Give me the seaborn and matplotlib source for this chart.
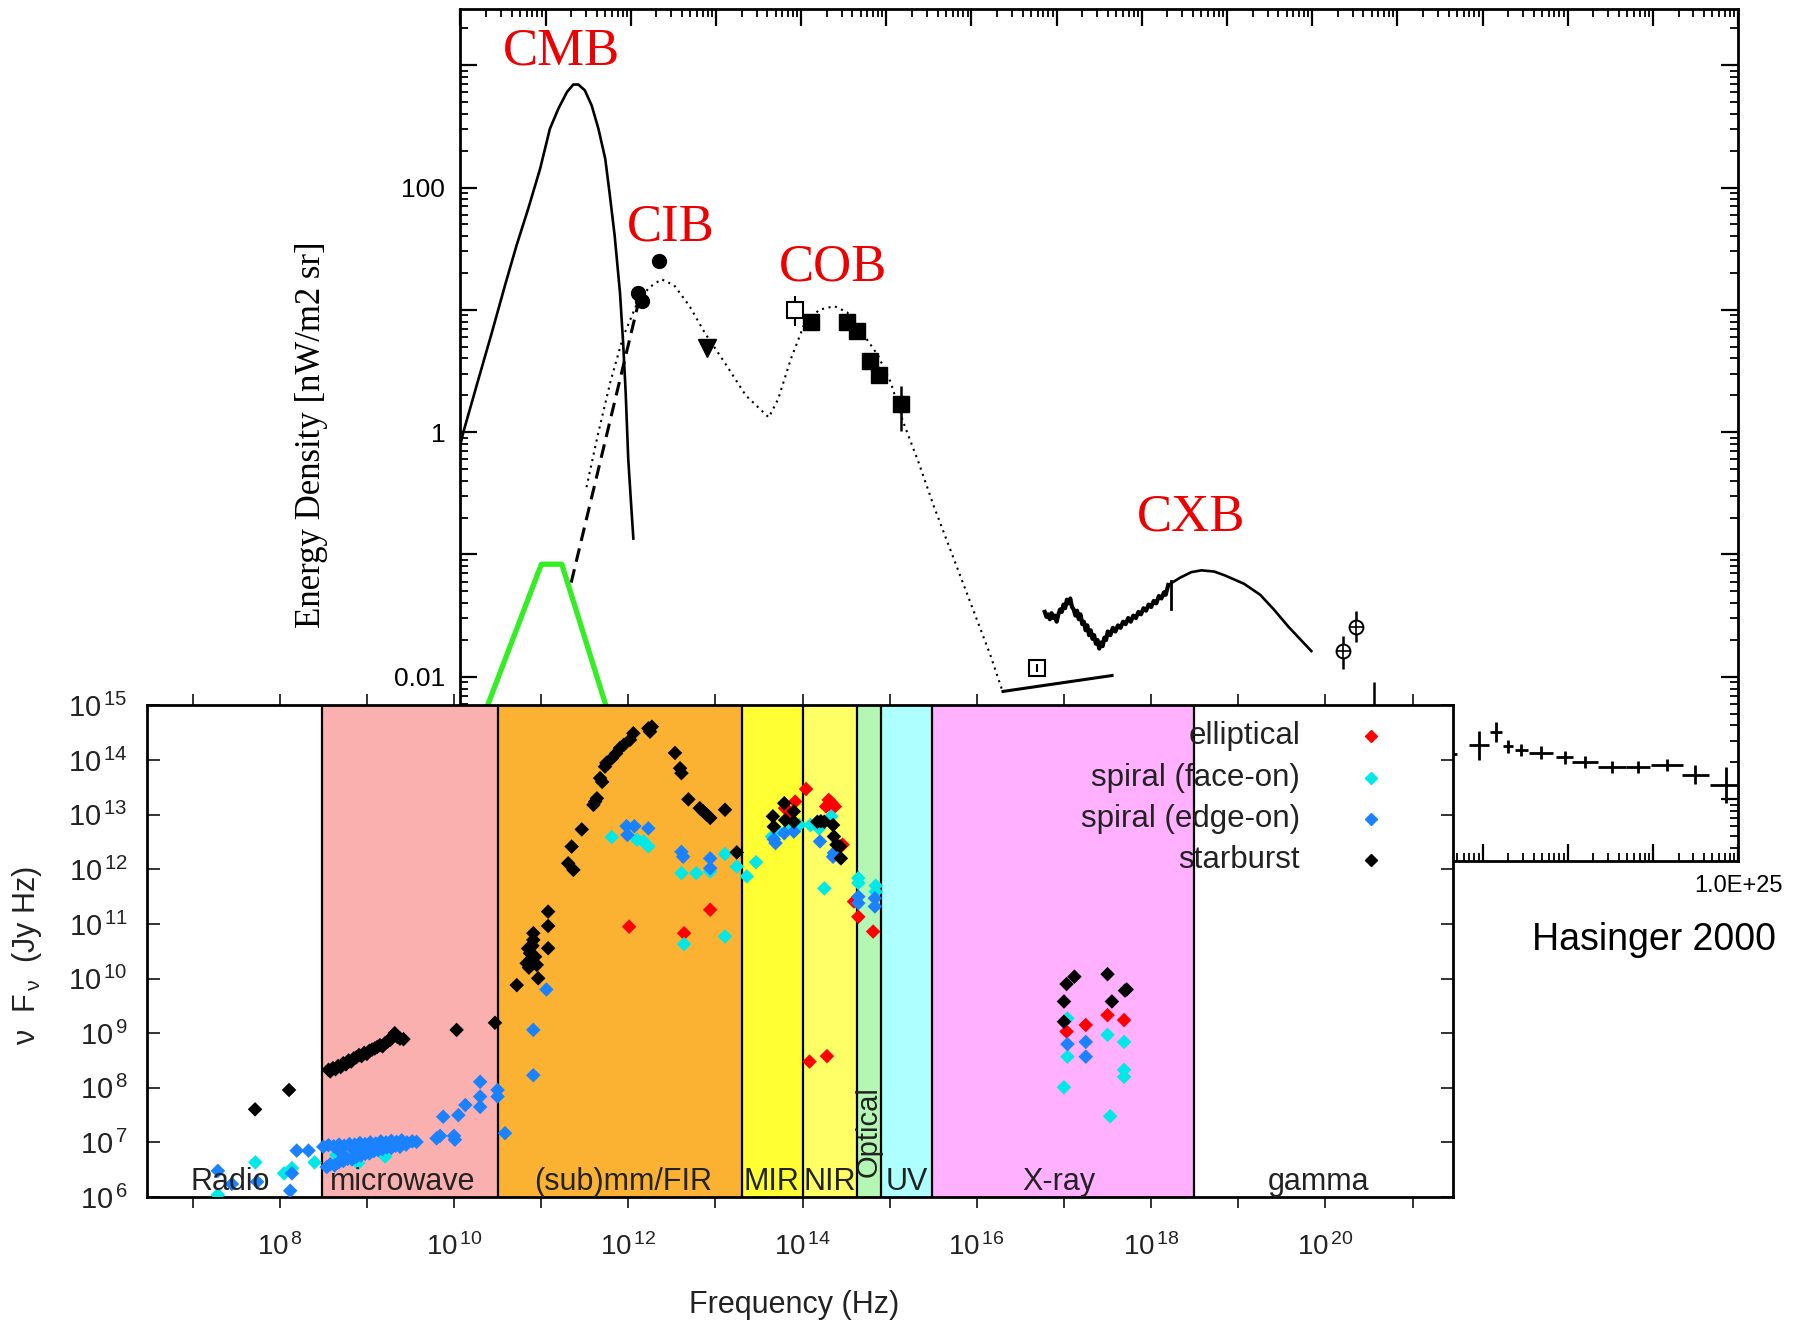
import numpy as np
import pandas as pd
import matplotlib
matplotlib.use("Agg")
import matplotlib.pyplot as plt
import matplotlib.ticker as mticker
import seaborn as sn

plt.rcParams['font.family'] = ['Liberation Sans', 'DejaVu Sans']
plt.rcParams['mathtext.fontset'] = 'custom'
plt.rcParams['mathtext.rm'] = 'Liberation Sans'
plt.rcParams['mathtext.it'] = 'Liberation Sans:italic'

# ---------------- top panel: extragalactic background (log10 values)
cmb_lognu = [10.00, 10.034, 10.21, 10.367, 10.523, 10.66, 10.797, 10.934, 11.05, 11.15, 11.25, 11.325, 11.384,
             11.46, 11.54, 11.62, 11.70, 11.75, 11.81, 11.873, 11.91, 11.94, 11.97, 12.00, 12.03]
cmb_loge = [-0.10, 0.00, 0.43, 0.81, 1.20, 1.53, 1.83, 2.15, 2.48, 2.645, 2.78, 2.842, 2.842,
            2.795, 2.672, 2.48, 2.235, 1.96, 1.61, 1.14, 0.73, 0.32, -0.22, -0.55, -0.87]

green_lognu = [9.90, 10.95, 11.19, 12.05]
green_loge = [-3.0, -1.08, -1.08, -3.0]

dash_lognu = [11.30, 12.08]
dash_loge = [-1.23, 1.03]

ebl_lognu = [11.48, 11.61, 11.76, 11.91, 12.06, 12.21, 12.36, 12.51, 12.69, 12.87, 13.11, 13.35, 13.62, 13.73, 13.88, 14.03,
             14.21, 14.39, 14.54, 14.72, 14.90, 15.05, 15.20, 15.38, 15.56, 15.80, 16.04, 16.22, 16.37]
ebl_loge = [-0.45, -0.03, 0.41, 0.78, 1.03, 1.18, 1.25, 1.20, 1.03, 0.81, 0.56, 0.30, 0.12, 0.27, 0.60, 0.87,
            1.00, 1.03, 0.98, 0.81, 0.63, 0.41, 0.08, -0.25, -0.61, -1.05, -1.49, -1.82, -2.13]

cib_lognu = [12.09, 12.13, 12.33]
cib_loge = [1.14, 1.07, 1.40]
tri_lognu = [12.90]
tri_loge = [0.69]

cob_open_lognu = [13.93]
cob_open_loge = [1.00]
cob_lognu = [14.12, 14.54, 14.65, 14.81, 14.91, 15.17]
cob_loge = [0.90, 0.90, 0.83, 0.58, 0.47, 0.23]

cxb_lognu = [16.86, 16.88, 16.90, 16.92, 16.94, 16.96, 16.98, 17.00, 17.02, 17.04, 17.06, 17.08, 17.10, 17.12, 17.14,
             17.16, 17.18, 17.20, 17.22, 17.24, 17.26, 17.28, 17.30, 17.32, 17.34, 17.36, 17.38, 17.40, 17.42, 17.44,
             17.46, 17.48, 17.50, 17.52, 17.54, 17.56, 17.58, 17.60, 17.63, 17.66, 17.69, 17.72, 17.75, 17.78, 17.81,
             17.84, 17.87, 17.90, 17.93, 17.96, 17.99, 18.02, 18.05, 18.08, 18.11, 18.14, 18.17, 18.20, 18.23, 18.26,
             18.28, 18.31, 18.45, 18.58, 18.70, 18.85, 18.97, 19.20, 19.39, 19.55, 19.72, 19.99]
cxb_loge = [-1.47, -1.51, -1.49, -1.53, -1.48, -1.52, -1.50, -1.55, -1.49, -1.45, -1.47, -1.41, -1.44, -1.37, -1.40,
            -1.36, -1.43, -1.45, -1.50, -1.46, -1.53, -1.49, -1.57, -1.55, -1.62, -1.58, -1.66, -1.62, -1.69, -1.66,
            -1.73, -1.70, -1.77, -1.72, -1.75, -1.68, -1.70, -1.63, -1.66, -1.60, -1.63, -1.58, -1.60, -1.55, -1.57,
            -1.52, -1.55, -1.50, -1.52, -1.47, -1.49, -1.44, -1.46, -1.41, -1.43, -1.38, -1.40, -1.34, -1.36, -1.31,
            -1.33, -1.25, -1.19, -1.145, -1.13, -1.14, -1.17, -1.24, -1.33, -1.45, -1.59, -1.79]

euv_lognu = [16.37, 17.65]
euv_loge = [-2.12, -1.99]
euv_pt_lognu = [16.77]
euv_pt_loge = [-1.93]

gam_pt_lognu = [20.36, 20.52, 20.73]
gam_pt_loge = [-1.79, -1.59, -2.35]
gam_pt_lo = [0.15, 0.13, 0.20]
gam_pt_hi = [0.12, 0.13, 0.31]

egret_lognu = [21.60, 21.96, 22.155, 22.30, 22.456, 22.69, 22.965, 23.20, 23.52, 23.825, 24.165, 24.50, 24.855]
egret_loge = [-2.63, -2.56, -2.45, -2.57, -2.60, -2.62, -2.66, -2.70, -2.74, -2.74, -2.72, -2.80, -2.885]
egret_dx = [0.10, 0.12, 0.07, 0.06, 0.08, 0.14, 0.10, 0.15, 0.17, 0.14, 0.19, 0.16, 0.18]
egret_dy = [0.05, 0.12, 0.08, 0.05, 0.05, 0.05, 0.05, 0.05, 0.05, 0.05, 0.05, 0.075, 0.15]

# ---------------- bottom panel: galaxy SEDs (log10 nu, log10 nuFnu)
band_names = ['microwave', '(sub)mm/FIR', 'MIR', 'NIR', 'Optical', 'UV', 'X-ray']
band_lo = [8.49, 10.50, 13.30, 14.01, 14.62, 14.90, 15.49]
band_hi = [10.50, 13.30, 14.01, 14.62, 14.90, 15.49, 18.49]
band_colors = ['#fbb0b0', '#fbb233', '#ffff33', '#ffff66', '#b4f7b4', '#aeffff', '#ffb0ff']

ell_nu = [12.01, 12.64, 12.94, 13.80, 13.915, 13.85, 14.04, 14.27, 14.30, 14.31, 14.37, 14.33, 14.46, 14.08, 14.28,
          14.59, 14.64, 14.81, 17.03, 17.25, 17.50, 17.69]
ell_f = [10.95, 10.83, 11.26, 13.12, 13.24, 13.05, 13.47, 13.15, 13.27, 13.18, 13.15, 13.22, 12.45, 8.48, 8.58,
         11.41, 11.13, 10.86, 9.03, 9.15, 9.33, 9.24]

face_nu = [7.29, 7.72, 8.05, 8.14, 8.40, 8.65, 8.90, 9.21, 11.81, 12.10, 12.175, 12.23, 12.61, 12.78, 12.94, 13.11,
           13.245, 13.36, 13.466, 12.64, 13.11, 13.65, 13.86, 13.96, 13.72, 14.09, 14.19, 14.33, 14.25, 14.64, 14.64,
           14.84, 14.84, 17.04, 17.04, 17.50, 17.69, 17.69, 17.69, 17.00, 17.53]
face_f = [6.04, 6.635, 6.434, 6.53, 6.635, 6.77, 6.62, 6.74, 12.59, 12.54, 12.51, 12.42, 11.93, 11.93, 11.96, 12.28,
          12.05, 11.87, 12.13, 10.63, 10.77, 12.60, 12.78, 12.81, 12.70, 12.81, 12.75, 12.97, 11.65, 11.84, 11.75,
          11.70, 11.59, 9.27, 8.57, 8.97, 8.84, 8.33, 8.20, 8.01, 7.48]

edge_nu = [7.29, 7.45, 7.74, 8.14, 8.12, 8.195, 8.33,
           8.50, 8.56, 8.62, 8.68, 8.74, 8.80, 8.86, 8.92, 8.98, 9.04, 9.10, 9.16, 9.22, 9.28, 9.34, 9.40, 9.46, 9.52, 9.57,
           8.54, 8.58, 8.63, 8.68, 8.73, 8.78, 8.83, 8.88, 8.93, 8.98, 9.03, 9.08, 9.13, 9.18, 9.23, 9.28, 9.33, 9.38,
           8.70, 8.85, 9.00, 9.15, 9.30, 9.45,
           9.80, 9.876, 10.01, 10.05, 10.13, 10.30, 10.30, 10.30, 10.50, 10.50, 10.585, 10.91, 10.91, 11.06, 9.84, 10.00,
           11.98, 12.07, 12.23, 11.99, 12.61, 12.63, 12.94, 12.94, 13.69, 13.79, 13.90, 13.67, 14.20, 14.35, 14.36,
           14.64, 14.64, 14.83, 14.83, 17.04, 17.25, 17.25]
edge_f = [6.48, 6.24, 6.28, 6.434, 6.116, 6.85, 6.85,
          6.92, 6.95, 6.93, 6.96, 6.94, 6.97, 6.96, 6.99, 6.97, 7.00, 6.98, 7.02, 7.00, 7.03, 7.01, 7.04, 7.00, 7.02, 7.01,
          6.55, 6.60, 6.58, 6.64, 6.66, 6.70, 6.69, 6.74, 6.76, 6.79, 6.80, 6.84, 6.86, 6.88, 6.91, 6.90, 6.94, 6.92,
          6.82, 6.86, 6.89, 6.94, 6.97, 6.96,
          7.075, 7.47, 7.05, 7.50, 7.685, 8.11, 7.84, 7.65, 7.96, 7.84, 7.17, 9.06, 8.23, 9.80, 7.12, 7.12,
          12.79, 12.79, 12.75, 12.63, 12.32, 12.23, 12.20, 12.02, 12.48, 12.66, 12.69, 12.55, 12.51, 12.23, 12.30,
          11.50, 11.38, 11.47, 11.32, 8.80, 8.84, 8.57]

sb_nu = [7.717, 8.107,
         8.56, 8.58, 8.61, 8.64, 8.67, 8.70, 8.73, 8.76, 8.79, 8.82, 8.85, 8.88, 8.91, 8.94, 8.97, 9.00, 9.03, 9.06, 9.09,
         9.12, 9.15, 9.18, 9.21, 9.24, 9.27, 9.30, 9.32, 9.35, 9.38, 9.42,
         10.03, 10.47,
         10.72, 10.966, 10.834, 10.91, 10.872, 10.91, 10.85, 10.88, 10.90, 10.86, 10.93, 11.08, 11.08, 11.08, 10.95,
         11.31, 11.35, 11.37, 11.466, 11.62, 11.60, 11.64, 11.676, 11.70, 11.733, 11.75, 11.81, 11.86, 11.905, 11.95,
         12.02, 12.058, 12.23, 12.27, 12.25,
         12.536, 12.594, 12.61, 12.69, 12.82, 12.86, 12.90, 12.94, 13.11, 13.245,
         13.66, 13.67, 13.79, 13.80, 13.90, 13.90,
         14.17, 14.25, 14.35, 14.36, 14.39, 14.43, 14.44, 14.21,
         17.12, 17.03, 17.00, 17.00, 17.50, 17.70, 17.55, 17.72]
sb_f = [7.606, 7.96,
        8.33, 8.30, 8.36, 8.34, 8.40, 8.38, 8.45, 8.43, 8.50, 8.48, 8.54, 8.56, 8.60, 8.58, 8.64, 8.62, 8.68, 8.70, 8.72,
        8.75, 8.78, 8.76, 8.82, 8.85, 8.88, 8.95, 9.00, 8.93, 8.90, 8.89,
        9.06, 9.19,
        9.88, 10.005, 10.28, 10.707, 10.463, 10.83, 10.55, 10.35, 10.60, 10.20, 10.40, 11.225, 10.963, 10.555, 10.25,
        12.11, 12.416, 11.99, 12.73, 13.24, 13.18, 13.30, 13.67, 13.60, 13.88, 13.95, 14.03, 14.12, 14.22, 14.28,
        14.37, 14.49, 14.58, 14.61, 14.52,
        14.13, 13.85, 13.76, 13.28, 13.12, 13.06, 13.00, 12.94, 13.09, 12.31,
        12.97, 12.78, 13.21, 12.90, 13.06, 12.87,
        12.87, 12.87, 12.81, 12.60, 12.45, 12.42, 12.20, 12.88,
        10.035, 9.90, 9.58, 9.21, 10.08, 9.78, 9.58, 9.80]

types = ['elliptical', 'spiral (face-on)', 'spiral (edge-on)', 'starburst']
type_colors = ['#ff0000', '#00e8e8', '#1a82ff', '#000000']


def p(v):
    return 10 ** np.asarray(v, dtype=float)


gal = pd.concat([
    pd.DataFrame({'nu': p(ell_nu), 'flux': p(ell_f), 'type': types[0]}),
    pd.DataFrame({'nu': p(face_nu), 'flux': p(face_f), 'type': types[1]}),
    pd.DataFrame({'nu': p(edge_nu), 'flux': p(edge_f), 'type': types[2]}),
    pd.DataFrame({'nu': p(sb_nu), 'flux': p(sb_f), 'type': types[3]}),
], ignore_index=True)

fig = plt.figure(figsize=(18.05, 13.28), dpi=100)

# ================= top axes
ax1 = fig.add_axes([0.2551, 0.3517, 0.7078, 0.6412])
ax1.set_xscale('log')
ax1.set_yscale('log')
ax1.set_xlim(1e10, 1e25)
ax1.set_ylim(10 ** -3.506, 10 ** 3.456)

ax1.plot(p(cmb_lognu), p(cmb_loge), color='k', lw=1.9)
ax1.plot(p(green_lognu), p(green_loge), color='#33ee22', lw=3.8)
ax1.plot(p(dash_lognu), p(dash_loge), color='k', lw=2.2, ls=(0, (4.5, 2.5)))
ax1.plot(p(ebl_lognu), p(ebl_loge), color='k', lw=1.5, ls=(0, (1, 2.2)))
ax1.plot(p(cib_lognu), p(cib_loge), 'o', color='k', ms=10)
ax1.plot(p(tri_lognu), p(tri_loge), 'v', color='k', ms=13)
ax1.errorbar(p(cob_open_lognu), p(cob_open_loge), yerr=[[10 ** 1.0 - 10 ** 0.87], [10 ** 1.11 - 10 ** 1.0]],
             fmt='s', mfc='white', mec='k', mew=1.5, ms=11, ecolor='k', elinewidth=1.5)
ax1.errorbar(p(cob_lognu[-1:]), p(cob_loge[-1:]), yerr=[[10 ** 0.23 - 10 ** 0.01], [10 ** 0.38 - 10 ** 0.23]],
             fmt='none', ecolor='k', elinewidth=1.8)
ax1.plot(p(cob_lognu), p(cob_loge), 's', color='k', ms=12)
ax1.plot(p(cxb_lognu[:62]), p(cxb_loge[:62]), color='k', lw=3.0)
ax1.plot(p(cxb_lognu[61:]), p(cxb_loge[61:]), color='k', lw=1.9)
ax1.plot([10 ** 18.34, 10 ** 18.34], [10 ** -1.22, 10 ** -1.45], color='k', lw=2)
ax1.plot(p(euv_lognu), p(euv_loge), color='k', lw=2.2)
ax1.plot(p(euv_pt_lognu), p(euv_pt_loge), 's', mfc='white', mec='k', mew=1.5, ms=11)
ax1.plot(p(euv_pt_lognu), p(euv_pt_loge), '|', color='k', ms=6, mew=1.5)

gy = np.asarray(gam_pt_loge)
ax1.errorbar(p(gam_pt_lognu), p(gam_pt_loge),
             yerr=[p(gy) - p(gy - np.asarray(gam_pt_lo)), p(gy + np.asarray(gam_pt_hi)) - p(gy)],
             fmt='none', ecolor='k', elinewidth=1.8)
ax1.plot(p(gam_pt_lognu[:2]), p(gam_pt_loge[:2]), 'o', mfc='white', mec='k', mew=1.4, ms=10)
ax1.plot(p(gam_pt_lognu[:2]), p(gam_pt_loge[:2]), '+', color='k', ms=10, mew=1.2)

ex = np.asarray(egret_lognu)
ey = np.asarray(egret_loge)
edx = np.asarray(egret_dx)
edy = np.asarray(egret_dy)
ax1.errorbar(p(ex), p(ey), xerr=[p(ex) - p(ex - edx), p(ex + edx) - p(ex)],
             yerr=[p(ey) - p(ey - edy), p(ey + edy) - p(ey)], fmt='none', ecolor='k', elinewidth=2.0)

for lab, lx, ly in [('CMB', 11.19, 3.11), ('CIB', 12.47, 1.67), ('COB', 14.38, 1.35), ('CXB', 18.58, -0.70)]:
    ax1.text(10 ** lx, 10 ** ly, lab, color='#ee0000', fontsize=38, family='Liberation Serif',
             ha='center', va='center')

ax1.xaxis.set_major_locator(mticker.LogLocator(base=10, numticks=40))
ax1.xaxis.set_minor_locator(mticker.LogLocator(base=10, subs=np.arange(2, 10), numticks=40))
ax1.yaxis.set_major_locator(mticker.LogLocator(base=10, numticks=40))
ax1.yaxis.set_minor_locator(mticker.LogLocator(base=10, subs=np.arange(2, 10), numticks=40))


def xfmt(v, pos):
    k = int(round(np.log10(v)))
    return '1.0E+%d' % k if k % 5 == 0 else ''


def yfmt(v, pos):
    k = int(round(np.log10(v)))
    if k % 2:
        return ''
    return {2: '100', 0: '1', -2: '0.01'}.get(k, '')


ax1.xaxis.set_major_formatter(mticker.FuncFormatter(xfmt))
ax1.xaxis.set_minor_formatter(mticker.NullFormatter())
ax1.yaxis.set_major_formatter(mticker.FuncFormatter(yfmt))
ax1.yaxis.set_minor_formatter(mticker.NullFormatter())
ax1.tick_params(which='both', direction='in', top=True, right=True)
ax1.tick_params(axis='y', labelsize=19, pad=11)
ax1.tick_params(axis='x', labelsize=17, pad=10)
ax1.tick_params(which='major', length=12, width=1.6)
ax1.tick_params(which='minor', length=6, width=1.3)
for s in ax1.spines.values():
    s.set_linewidth(2)
ax1.set_ylabel('Energy Density [nW/m2 sr]', family='Liberation Serif', fontsize=25)
ax1.yaxis.set_label_coords(-0.104, 0.50)

# ================= bottom axes
ax2 = fig.add_axes([0.0816, 0.0986, 0.7234, 0.3702])
ax2.set_zorder(3)
ax2.set_xscale('log')
ax2.set_yscale('log')
ax2.set_xlim(10 ** 6.48, 10 ** 21.465)
ax2.set_ylim(1e6, 1e15)

for lo, hi, c in zip(band_lo, band_hi, band_colors):
    ax2.axvspan(10 ** lo, 10 ** hi, color=c, lw=0, zorder=0)
for b in band_lo + [band_hi[-1]]:
    ax2.axvline(10 ** b, color='k', lw=1.6, zorder=1)

sn.scatterplot(data=gal, x='nu', y='flux', hue='type', hue_order=types, palette=type_colors,
               marker='D', s=55, linewidth=0, edgecolor='none', legend=False, ax=ax2, zorder=3)

txt = '#222222'
for lab, lx in [('Radio', 7.43), ('microwave', 9.41), ('(sub)mm/FIR', 11.94), ('MIR', 13.64), ('NIR', 14.31),
                ('UV', 15.20), ('X-ray', 16.94), ('gamma', 19.92)]:
    ax2.text(10 ** lx, 10 ** 6.27, lab, ha='center', va='center', fontsize=22, color=txt, zorder=4)
ax2.text(10 ** 14.76, 10 ** 6.37, 'Optical', rotation=90, ha='center', va='bottom', fontsize=21, color=txt, zorder=4)

leg_y = [0.937, 0.852, 0.768, 0.686]
for lab, c, y in zip(types, type_colors, leg_y):
    ax2.text(0.883, y, lab, transform=ax2.transAxes, ha='right', va='center', fontsize=22.5, color=txt, zorder=4)
    ax2.plot([0.9374], [y], 'D', color=c, ms=6, transform=ax2.transAxes, zorder=4)

ax2.set_xticks([10.0 ** k for k in range(7, 22)])
ax2.set_xticklabels([r'$\mathregular{10^{\,%d}}$' % k if k % 2 == 0 else '' for k in range(7, 22)])
ax2.set_yticks([10.0 ** k for k in range(6, 16)])
ax2.set_yticklabels([r'$\mathregular{10^{\,%d}}$' % k for k in range(6, 16)])
ax2.xaxis.set_minor_locator(mticker.NullLocator())
ax2.yaxis.set_minor_locator(mticker.NullLocator())
ax2.tick_params(axis='x', which='major', direction='out', top=True, length=8, width=1.3, labelsize=20, pad=18,
                colors='#222222')
ax2.tick_params(axis='y', which='major', direction='in', right=True, length=9, width=1.3, labelsize=21, pad=14,
                colors='#222222')
for s in ax2.spines.values():
    s.set_linewidth(2)
ax2.set_xlabel('Frequency (Hz)', fontsize=22, color=txt)
ax2.xaxis.set_label_coords(0.4953, -0.19)
ax2.set_ylabel(r'$\mathregular{\nu\ \ F_{\,\nu}}$  (Jy Hz)', fontsize=22, color=txt)
ax2.yaxis.set_label_coords(-0.079, 0.4916)

fig.text(0.9164, 0.2918, 'Hasinger 2000', ha='center', va='center', fontsize=27)

fig.savefig('out.png', dpi=100, facecolor='white')
